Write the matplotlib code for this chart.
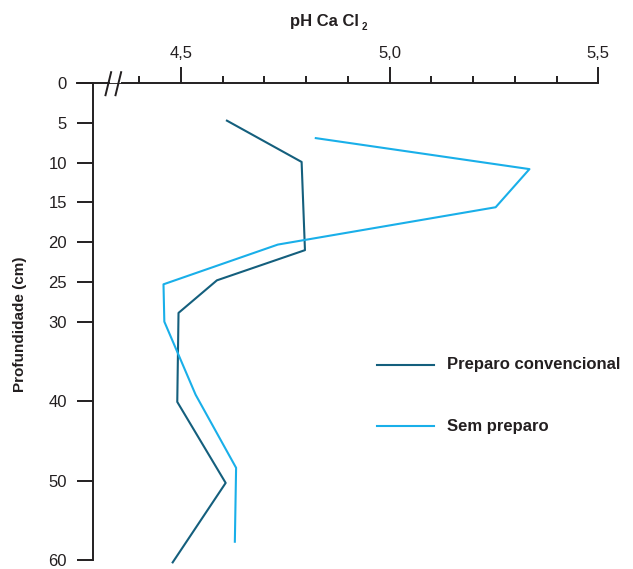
import matplotlib
matplotlib.use("Agg")
import matplotlib.pyplot as plt
from matplotlib.ticker import FixedLocator, FixedFormatter

plt.rcParams['font.family'] = ['Liberation Sans', 'DejaVu Sans']

# Soil pH (CaCl2) by depth for two tillage systems
conv_ph = [4.610, 4.789, 4.797, 4.586, 4.494, 4.491, 4.607, 4.480]
conv_depth = [4.7, 9.9, 21.0, 24.8, 28.9, 40.1, 50.3, 60.3]

sem_ph = [4.823, 5.335, 5.254, 4.732, 4.458, 4.460, 4.535, 4.632, 4.629]
sem_depth = [6.9, 10.8, 15.6, 20.3, 25.3, 30.0, 39.2, 48.4, 57.7]

series_labels = ["Preparo convencional", "Sem preparo"]
depth_ticks = [0, 5, 10, 15, 20, 25, 30, 40, 50, 60]
ph_major = [4.5, 5.0, 5.5]
ph_major_labels = ["4,5", "5,0", "5,5"]
ph_minor = [4.4, 4.6, 4.7, 4.8, 4.9, 5.1, 5.2, 5.3, 5.4]

dark = "#145f7d"
light = "#19afe9"
axis_col = "#231f20"

W, H = 633, 569
fig = plt.figure(figsize=(W / 100, H / 100), dpi=100)
x0, x1 = 76.7, 598.3
y_top, y_bot = 83.3, 560.0
ax = fig.add_axes([x0 / W, 1 - y_bot / H, (x1 - x0) / W, (y_bot - y_top) / H])

ax.set_xlim(4.25, 5.5)
ax.set_ylim(60, 0)

ax.plot(conv_ph, conv_depth, color=dark, lw=1.5, clip_on=False,
        label=series_labels[0])
ax.plot(sem_ph, sem_depth, color=light, lw=1.5, clip_on=False,
        label=series_labels[1])

# spines
for s in ("right", "bottom"):
    ax.spines[s].set_visible(False)
ax.spines["left"].set_position(("data", 4.288))
ax.spines["left"].set_color(axis_col)
ax.spines["top"].set_color(axis_col)
ax.spines["left"].set_linewidth(1.4)
ax.spines["top"].set_linewidth(1.4)

# y axis ticks
ax.yaxis.set_major_locator(FixedLocator(depth_ticks))
ax.set_yticklabels([str(d) for d in depth_ticks])
ax.tick_params(axis="y", direction="out", length=11.5, width=1.4,
               color=axis_col, pad=7, labelsize=12, labelcolor=axis_col)

# x axis on top
ax.xaxis.tick_top()
ax.xaxis.set_major_locator(FixedLocator(ph_major))
ax.xaxis.set_major_formatter(FixedFormatter(ph_major_labels))
ax.xaxis.set_minor_locator(FixedLocator(ph_minor))
ax.tick_params(axis="x", which="major", direction="out", length=11.3, width=1.4,
               color=axis_col, pad=5, labelsize=12, labelcolor=axis_col)
ax.tick_params(axis="x", which="minor", direction="out", length=5.3, width=1.4,
               color=axis_col)

# axis break on the pH axis
ax.plot([4.3295, 4.3565], [-0.3, -0.3], color="white", lw=3, clip_on=False,
        solid_capstyle="butt", zorder=5)
for xs in (4.3190, 4.3430):
    ax.plot([xs, xs + 0.0135], [1.5, -1.4], color=axis_col, lw=1.4,
            clip_on=False, zorder=6)

# axis titles
fig.text(290 / W, 1 - 26 / H, "pH Ca Cl", ha="left", va="baseline",
         fontsize=12, fontweight="bold", color=axis_col)
fig.text(361.5 / W, 1 - 30 / H, "2", ha="left", va="baseline",
         fontsize=7, fontweight="bold", color=axis_col)
fig.text(20 / W, 1 - 324 / H, "Profundidade (cm)", rotation=90, ha="center",
         va="center", fontsize=11, fontweight="bold", color=axis_col)

# legend drawn as line samples with bold labels
for i, (lab, col) in enumerate(zip(series_labels, [dark, light])):
    yy = 1 - (365 + 61 * i) / H
    fig.add_artist(plt.Line2D([377.3 / W, 434 / W], [yy, yy], color=col, lw=1.5))
    fig.text(446.7 / W, yy, lab, ha="left", va="center", fontsize=12,
             fontweight="bold", color=axis_col)

fig.savefig("out.png", dpi=100)
